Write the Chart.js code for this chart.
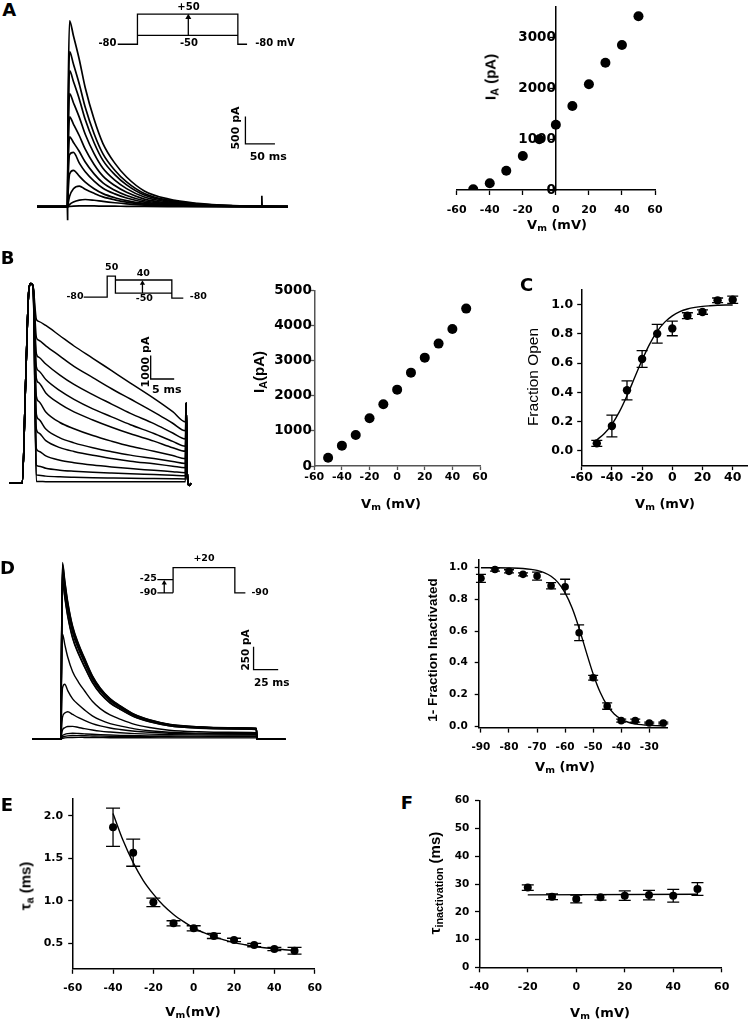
<!DOCTYPE html>
<html>
<head>
<meta charset="utf-8">
<script src="https://cdn.jsdelivr.net/npm/chart.js@4.4.1/dist/chart.umd.min.js"></script>
<style>
  html, body { margin: 0; padding: 0; background: #fff; }
  #fig { position: relative; width: 750px; height: 1022px; overflow: hidden; background: #fff; }
  #fig canvas { position: absolute; }
  .t { position: absolute; transform: translate(-50%, -50%); white-space: nowrap; line-height: 1;
       color: #000; font-family: 'DejaVu Sans'; font-weight: bold; }
  .t.r { transform: translate(-50%, -50%) rotate(-90deg); }
  sub { font-size: 72%; vertical-align: -0.3em; line-height: 0; }
</style>
</head>
<body>
<div id="fig"></div>
<script>
// ---------- A: raw currents, steps -50..+50 mV (time in ms, current in pA) ----------
const TA = [-52, -0.5, 0, 1, 3.5, 10, 20, 30, 45, 60, 80, 100, 130, 170, 220, 280, 373];
const A_TRACES = [
  [0, 0, 0, 1880, 3415, 3140, 2700, 2185, 1605, 1160, 800, 545, 290, 143, 61, 20, 0],
  [0, 0, 0, 1570, 2849, 2620, 2250, 1825, 1340, 970, 670, 455, 242, 120, 51, 17, 0],
  [0, 0, 0, 1375, 2501, 2300, 1975, 1600, 1175, 850, 588, 400, 213, 105, 45, 15, 0],
  [0, 0, 0, 1140, 2077, 1910, 1640, 1330, 975, 706, 488, 332, 177, 87, 37, 12, 0],
  [0, 0, 0, 900, 1650, 1518, 1303, 1056, 775, 561, 388, 264, 140, 69, 30, 10, 0],
  [0, 0, 0, 700, 1283, 1180, 1013, 821, 603, 436, 302, 205, 109, 54, 23, 8, 0],
  [0, 0, 0, 480, 960, 996, 800, 640, 470, 340, 235, 160, 85, 42, 18, 6, 0],
  [0, 0, 0, 260, 600, 668, 560, 450, 330, 240, 165, 112, 60, 30, 13, 4, 0],
  [0, 0, 0, 60, 190, 330, 379, 320, 245, 180, 125, 85, 46, 23, 10, 3, 0],
  [0, 0, 0, 10, 40, 85, 120, 132, 118, 96, 72, 52, 30, 16, 7, 2, 0],
  [0, 0, 0, 1, 4, 9, 13, 14, 13, 11, 9, 7, 4, 2, 1, 0, 0]
];
const A_ARTIFACT = [[-0.3, 0], [0, -250], [0.4, 0], null, [328.5, 0], [329, 200], [329.6, 0]];
const A_PROTOCOL = [[85, 2984], [118.4, 2984], [118.4, 3538], [288.4, 3538], [288.4, 2984], [304, 2984], null,
                    [118.4, 3146], [288.4, 3146], null, [204.5, 3146], [204.5, 3500]];
const A_ARROW = [[204.5, 3480]];
const A_SCALEBAR = [[301.2, 1655], [301.2, 1155], [351.2, 1155]];   // 500 pA, 50 ms

// A: peak I-V
const VA = [-50, -40, -30, -20, -10, 0, 10, 20, 30, 40, 50];
const IA = [14, 132, 379, 668, 996, 1283, 1650, 2077, 2501, 2849, 3413];
const A_XTICKS = [-60, -40, -20, 0, 20, 40, 60];
const A_YTICKS = [0, 1000, 2000, 3000];

// ---------- B: prepulse to +50 then steps (ms, pA) ----------
const TB = [-5.8, -3.0, -2.3, -1.6, -1.2, -0.7, 0, 0.5, 2, 5, 8, 12, 16, 20, 25, 29, 31.7, 31.85, 32.1, 32.5, 32.9];
const B_PRE = [0, 0, 4200, 8200, 8470, 8350];
const B_TAIL = [3400, 400, -100, 0];
const B_STEPS = [
  [6950, 6865, 6690, 6255, 5820, 5300, 4775, 4250, 3600, 3035, 2600],
  [6185, 6066, 5829, 5393, 4957, 4482, 4007, 3571, 3017, 2542, 2225],
  [5490, 5345, 5056, 4586, 4189, 3755, 3357, 2960, 2526, 2128, 1875],
  [4935, 4767, 4397, 3926, 3555, 3152, 2815, 2479, 2108, 1772, 1570],
  [4450, 4264, 3830, 3365, 3024, 2683, 2373, 2094, 1784, 1505, 1350],
  [3685, 3473, 3024, 2574, 2310, 2019, 1781, 1569, 1357, 1172, 1040],
  [2920, 2712, 2295, 1920, 1711, 1502, 1336, 1190, 1044, 918, 835],
  [2295, 2131, 1803, 1508, 1344, 1180, 1049, 934, 819, 721, 655],
  [1460, 1358, 1155, 973, 871, 770, 689, 618, 546, 485, 445],
  [765, 720, 632, 551, 507, 462, 427, 396, 365, 338, 320],
  [350, 333, 299, 268, 251, 234, 221, 209, 197, 187, 180],
  [70, 68, 65, 63, 62, 61, 60, 60, 60, 60, 60]
];
const B_PROTOCOL = [[10.06, 7894], [15.06, 7894], [15.06, 8786], [16.81, 8786], [16.81, 8061], [28.81, 8061],
                    [28.81, 7852], [31.25, 7852], null, [16.81, 8620], [28.81, 8620], [28.81, 8061], null,
                    [22.56, 8061], [22.56, 8500]];
const B_ARROW = [[22.56, 8480]];
const B_SCALEBAR = [[24.31, 5420], [24.31, 4420], [29.31, 4420]];   // 1000 pA, 5 ms

// B: I-V
const VB = [-50, -40, -30, -20, -10, 0, 10, 20, 30, 40, 50];
const IB = [237, 579, 882, 1357, 1755, 2173, 2657, 3084, 3483, 3900, 4479];
const B_XTICKS = [-60, -40, -20, 0, 20, 40, 60];
const B_YTICKS = [0, 1000, 2000, 3000, 4000, 5000];

// ---------- C: activation ----------
const VC = [-50, -40, -30, -20, -10, 0, 10, 20, 30, 40];
const FC = [0.052, 0.171, 0.415, 0.629, 0.802, 0.838, 0.925, 0.95, 1.03, 1.034];
const EC = [0.02, 0.074, 0.065, 0.057, 0.064, 0.05, 0.02, 0.015, 0.016, 0.025];
const C_FIT_V = [-50, -45, -40, -35, -30, -25, -20, -15, -10, -5, 0, 5, 10, 15, 20, 25, 30, 35, 40];
const C_FIT = [0.076, 0.119, 0.182, 0.269, 0.378, 0.5, 0.622, 0.731, 0.818, 0.881, 0.924, 0.953, 0.971,
               0.982, 0.989, 0.993, 0.996, 0.998, 0.998];
const C_XTICKS = [-60, -40, -20, 0, 20, 40];
const C_YTICKS = [0, 0.2, 0.4, 0.6, 0.8, 1.0];

// ---------- D: raw currents after prepulses -90..-25 (ms, pA) ----------
const TD = [-29, -0.6, 0, 0.8, 1.7, 4, 7, 12, 18, 24, 32, 40, 50, 60, 75, 90, 110, 140, 170, 198.5, 199.3, 228];
const D_TRACES = [
  [0, 0, 0, 1158, 1930, 1737, 1505, 1235, 1042, 888, 695, 560, 444, 367, 270, 212, 164, 135, 125, 120, 0, 0],
  [0, 0, 0, 1146, 1910, 1719, 1490, 1222, 1031, 879, 688, 554, 439, 363, 267, 210, 162, 134, 124, 118, 0, 0],
  [0, 0, 0, 1122, 1870, 1683, 1459, 1197, 1010, 860, 673, 542, 430, 355, 262, 206, 159, 131, 122, 116, 0, 0],
  [0, 0, 0, 1110, 1850, 1665, 1443, 1184, 999, 851, 666, 537, 426, 352, 259, 204, 157, 130, 120, 115, 0, 0],
  [0, 0, 0, 1089, 1815, 1634, 1416, 1162, 980, 835, 653, 526, 417, 345, 254, 200, 154, 127, 118, 113, 0, 0],
  [0, 0, 0, 1041, 1735, 1562, 1353, 1110, 937, 798, 625, 503, 399, 330, 243, 191, 147, 121, 113, 108, 0, 0],
  [0, 0, 0, 1029, 1715, 1544, 1338, 1098, 926, 789, 617, 497, 394, 326, 240, 189, 146, 120, 111, 106, 0, 0],
  [0, 0, 0, 690, 1150, 1035, 897, 736, 621, 529, 414, 334, 265, 219, 161, 127, 98, 81, 75, 71, 0, 0],
  [0, 0, 0, 300, 560, 600, 530, 440, 375, 320, 255, 210, 170, 145, 112, 92, 76, 66, 62, 60, 0, 0],
  [0, 0, 0, 120, 240, 285, 300, 270, 235, 205, 170, 145, 122, 106, 87, 75, 65, 58, 55, 54, 0, 0],
  [0, 0, 0, 50, 100, 125, 138, 140, 128, 115, 100, 88, 78, 70, 61, 55, 50, 47, 46, 45, 0, 0],
  [0, 0, 0, 20, 40, 52, 60, 65, 62, 58, 53, 49, 45, 42, 39, 36, 34, 33, 32, 32, 0, 0],
  [0, 0, 0, 10, 22, 30, 36, 40, 39, 37, 35, 33, 31, 30, 28, 27, 26, 25, 25, 25, 0, 0],
  [0, 0, 0, 5, 10, 14, 17, 19, 20, 19, 18, 17, 16, 16, 15, 15, 14, 14, 14, 14, 0, 0]
];
const D_PROTOCOL = [[114, 1597.5], [114, 1872.5], [176.7, 1872.5], [176.7, 1597.5], [187.4, 1597.5], null,
                    [98, 1741], [114, 1741], null, [98, 1597.5], [114, 1597.5], null, [105, 1597.5], [105, 1700]];
const D_ARROW = [[105, 1705]];
const D_SCALEBAR = [[195.7, 1010], [195.7, 760], [220.7, 760]];   // 250 pA, 25 ms

// D: steady-state inactivation
const VD = [-90, -85, -80, -75, -70, -65, -60, -55, -50, -45, -40, -35, -30, -25];
const FD = [0.933, 0.989, 0.977, 0.958, 0.947, 0.886, 0.88, 0.589, 0.305, 0.126, 0.034, 0.034, 0.019, 0.019];
const ED = [0.025, 0.01, 0.01, 0.01, 0.025, 0.02, 0.047, 0.05, 0.015, 0.02, 0.01, 0.01, 0.005, 0.005];
const D_FIT_V = [-90, -85, -80, -75, -70, -67.5, -65, -62.5, -60, -57.5, -55, -52.5, -50, -47.5, -45, -42.5,
                 -40, -37.5, -35, -30, -24];
const D_FIT = [0.9999, 0.9995, 0.9984, 0.995, 0.983, 0.969, 0.946, 0.906, 0.841, 0.745, 0.617, 0.47, 0.329,
               0.213, 0.13, 0.076, 0.043, 0.024, 0.0136, 0.0042, 0.001];
const D_XTICKS = [-90, -80, -70, -60, -50, -40, -30];
const D_YTICKS = [0, 0.2, 0.4, 0.6, 0.8, 1.0];

// ---------- E: activation time constant ----------
const VE = [-40, -30, -20, -10, 0, 10, 20, 30, 40, 50];
const TAU_A = [1.867, 1.568, 0.983, 0.736, 0.677, 0.587, 0.54, 0.48, 0.433, 0.413];
const EE = [0.225, 0.16, 0.05, 0.03, 0.03, 0.03, 0.02, 0.02, 0.02, 0.04];
const E_FIT_V = [-40, -35, -30, -25, -20, -15, -10, -5, 0, 5, 10, 15, 20, 25, 30, 35, 40, 45, 50];
const E_FIT = [2.03, 1.71, 1.45, 1.24, 1.08, 0.945, 0.84, 0.755, 0.68, 0.625, 0.578, 0.54, 0.508, 0.485,
               0.464, 0.448, 0.435, 0.425, 0.416];
const E_XTICKS = [-60, -40, -20, 0, 20, 40, 60];
const E_YTICKS = [0.5, 1.0, 1.5, 2.0];

// ---------- F: inactivation time constant ----------
const VF = [-20, -10, 0, 10, 20, 30, 40, 50];
const TAU_I = [28.7, 25.4, 24.6, 25.2, 25.8, 26.0, 25.8, 28.2];
const EF = [1, 1, 1.4, 1, 1.7, 1.7, 2.3, 2.3];
const F_FIT_V = [-20, 50];
const F_FIT = [26.1, 26.3];
const F_XTICKS = [-40, -20, 0, 20, 40, 60];
const F_YTICKS = [0, 10, 20, 30, 40, 50, 60];

// ---------------------------------------------------------------------------
const fig = document.getElementById('fig');
Chart.defaults.font.family = 'DejaVu Sans';
Chart.defaults.font.weight = 'bold';
Chart.defaults.color = '#000';

const base = {
  responsive: false, animation: false, events: [], devicePixelRatio: 1,
  plugins: { legend: { display: false }, tooltip: { enabled: false } }
};

const pts = (xs, ys) => xs.map((x, i) => ({ x, y: ys[i] }));
function path(list) {
  const out = [];
  let last = 0;
  list.forEach(p => {
    if (p) { out.push({ x: p[0], y: p[1] }); last = p[0]; }
    else out.push({ x: last, y: null });
  });
  return out;
}

function mkCanvas(id, left, top, w, h) {
  const c = document.createElement('canvas');
  c.id = id; c.width = w; c.height = h;
  c.style.left = left + 'px'; c.style.top = top + 'px';
  c.style.width = w + 'px'; c.style.height = h + 'px';
  fig.appendChild(c);
  return c.getContext('2d');
}

function txt(html, x, y, css, rot) {
  const d = document.createElement('div');
  d.className = 't' + (rot ? ' r' : '');
  d.innerHTML = html;
  d.style.left = x + 'px'; d.style.top = y + 'px';
  d.style.cssText += ';' + css;
  fig.appendChild(d);
}

const traceSet = (xs, ys, w) => ({ data: pts(xs, ys), borderColor: '#000', borderWidth: w, pointRadius: 0,
  cubicInterpolationMode: 'monotone', fill: false });
const pathSet = (list, w) => ({ data: path(list), borderColor: '#000', borderWidth: w, pointRadius: 0,
  tension: 0, spanGaps: false, fill: false });
const arrowSet = (list, r) => ({ data: path(list), showLine: false, pointStyle: 'triangle', pointRadius: r,
  pointBackgroundColor: '#000', pointBorderWidth: 0 });

// recordings: no axes, the chart area is pinned to a page rectangle
function traceChart(id, area, xr, yr, datasets) {
  const bx = Math.floor(area[0]) - 2, by = Math.floor(area[1]) - 2;
  const bw = Math.ceil(area[2]) + 2 - bx, bh = Math.ceil(area[3]) + 2 - by;
  const ctx = mkCanvas(id, bx, by, bw, bh);
  return new Chart(ctx, {
    type: 'line',
    data: { datasets },
    options: {
      ...base,
      layout: { padding: { left: area[0] - bx, top: area[1] - by, right: bx + bw - area[2], bottom: by + bh - area[3] } },
      scales: {
        x: { type: 'linear', display: false, min: xr[0], max: xr[1] },
        y: { type: 'linear', display: false, min: yr[0], max: yr[1] }
      }
    }
  });
}

function errorBars(xs, ys, err, cap) {
  return {
    id: 'errorBars',
    beforeDatasetsDraw(chart) {
      const { ctx, scales: { x, y } } = chart;
      ctx.save();
      ctx.strokeStyle = '#000';
      ctx.lineWidth = 1.3;
      xs.forEach((v, i) => {
        const px = x.getPixelForValue(v);
        const lo = y.getPixelForValue(ys[i] - err[i]);
        const hi = y.getPixelForValue(ys[i] + err[i]);
        ctx.beginPath();
        ctx.moveTo(px, lo); ctx.lineTo(px, hi);
        ctx.moveTo(px - cap, lo); ctx.lineTo(px + cap, lo);
        ctx.moveTo(px - cap, hi); ctx.lineTo(px + cap, hi);
        ctx.stroke();
      });
      ctx.restore();
    }
  };
}

const YW = 45, XH = 30;
function plotChart(id, area, o) {
  const bx = Math.floor(area[0]) - YW - 15, by = Math.floor(area[1]) - 15;
  const bw = Math.ceil(area[2]) + 25 - bx, bh = Math.ceil(area[3]) + XH + 15 - by;
  const ctx = mkCanvas(id, bx, by, bw, bh);
  const yLeft = !o.yAtZero;
  const col = o.axisColor || '#000';
  const axis = (a) => ({
    type: 'linear',
    min: a.min, max: a.max,
    afterBuildTicks: s => { s.ticks = a.ticks.map(v => ({ value: v })); },
    grid: { drawOnChartArea: false, drawTicks: true, tickLength: a.tl, tickColor: col, tickWidth: 1.3 },
    border: { color: col, width: 1.5 },
    ticks: {
      autoSkip: false, maxRotation: 0, padding: a.pad, color: '#000',
      font: { family: 'DejaVu Sans', size: a.size, weight: 'bold' },
      callback: v => a.dec ? Number(v).toFixed(a.dec) : String(v)
    }
  });
  const x = axis(o.x);
  x.position = 'bottom';
  x.afterFit = s => { s.height = XH; };
  const y = axis(o.y);
  y.position = yLeft ? 'left' : { x: 0 };
  y.afterFit = s => { s.width = YW; };
  return new Chart(ctx, {
    type: 'scatter',
    data: { datasets: o.datasets },
    options: {
      ...base,
      layout: { padding: {
        left: area[0] - bx - (yLeft ? YW : 0), top: area[1] - by,
        right: bx + bw - area[2], bottom: by + bh - area[3] - XH } },
      scales: { x, y }
    },
    plugins: o.err ? [o.err] : []
  });
}

const dots = (xs, ys, r) => ({ data: pts(xs, ys), showLine: false, pointRadius: r,
  pointBackgroundColor: '#000', pointBorderWidth: 0 });
const fit = (xs, ys) => ({ data: pts(xs, ys), showLine: true, pointRadius: 0, borderColor: '#000',
  borderWidth: 1.4, cubicInterpolationMode: 'monotone' });

// ---------------- panel A ----------------
traceChart('aTraces', [35, 0, 290, 230], [-51.67, 373.3], [-391.7, 3760], [
  ...A_TRACES.map(tr => traceSet(TA, tr, 1.7)),
  pathSet(A_ARTIFACT, 1.7),
  pathSet(A_PROTOCOL, 1.3),
  arrowSet(A_ARROW, 3.5),
  pathSet(A_SCALEBAR, 1.3)
]);

plotChart('aIV', [456.7, 6.8, 655, 190], {
  yAtZero: true,
  x: { min: -60, max: 60, ticks: A_XTICKS, size: 11, tl: 5, pad: 8.4 },
  y: { min: 0, max: 3600, ticks: A_YTICKS, size: 13.5, tl: 5, pad: 0 },
  datasets: [dots(VA, IA, 5)]
});

// ---------------- panel B ----------------
traceChart('bTraces', [5, 262, 200, 495], [-6.25, 34.375], [-417, 9299], [
  ...B_STEPS.map(st => traceSet(TB, B_PRE.concat(st, B_TAIL), 1.5)),
  pathSet(B_PROTOCOL, 1.3),
  arrowSet(B_ARROW, 3),
  pathSet(B_SCALEBAR, 1.3)
]);

plotChart('bIV', [314.3, 290.3, 480, 466], {
  axisColor: '#555',
  x: { min: -60, max: 60, ticks: B_XTICKS, size: 11, tl: 4, pad: 0.7 },
  y: { min: 0, max: 5000, ticks: B_YTICKS, size: 13.5, tl: 4, pad: -1.5 },
  datasets: [dots(VB, IB, 5)]
});

// ---------------- panel C ----------------
plotChart('cAct', [581.7, 290.1, 747.8, 465.6], {
  x: { min: -60, max: 50, ticks: C_XTICKS, size: 12.5, tl: 4.5, pad: 0 },
  y: { min: -0.1, max: 1.1, ticks: C_YTICKS, size: 12.5, tl: 4.5, pad: 3.9, dec: 1 },
  datasets: [dots(VC, FC, 4.2), fit(C_FIT_V, C_FIT)],
  err: errorBars(VC, FC, EC, 5.5)
});

// ---------------- panel D ----------------
traceChart('dTraces', [28, 548, 292, 750], [-31.3, 232.7], [-96.3, 2065.1], [
  ...D_TRACES.map(tr => traceSet(TD, tr, 1.4)),
  pathSet(D_PROTOCOL, 1.3),
  arrowSet(D_ARROW, 3),
  pathSet(D_SCALEBAR, 1.3)
]);

plotChart('dInact', [478.7, 559.8, 667.5, 727.6], {
  x: { min: -90.8, max: -23.5, ticks: D_XTICKS, size: 10.5, tl: 5, pad: 8.4 },
  y: { min: -0.01, max: 1.05, ticks: D_YTICKS, size: 10.5, tl: 4, pad: 7, dec: 1 },
  datasets: [dots(VD, FD, 3.8), fit(D_FIT_V, D_FIT)],
  err: errorBars(VD, FD, ED, 5)
});

// ---------------- panel E ----------------
plotChart('eTau', [72.7, 799, 314.7, 968.8], {
  x: { min: -60, max: 60, ticks: E_XTICKS, size: 10.5, tl: 5, pad: 8.2 },
  y: { min: 0.2, max: 2.2, ticks: E_YTICKS, size: 11, tl: 4.5, pad: 5, dec: 1 },
  datasets: [dots(VE, TAU_A, 4), fit(E_FIT_V, E_FIT)],
  err: errorBars(VE, TAU_A, EE, 7)
});

// ---------------- panel F ----------------
plotChart('fTau', [479.3, 800.7, 721.7, 967.3], {
  x: { min: -40, max: 60, ticks: F_XTICKS, size: 11, tl: 5, pad: 8.1 },
  y: { min: 0, max: 60, ticks: F_YTICKS, size: 10.5, tl: 4.3, pad: 5.7 },
  datasets: [dots(VF, TAU_I, 4), fit(F_FIT_V, F_FIT)],
  err: errorBars(VF, TAU_I, EF, 6)
});

// ---------------- text ----------------
const L = 'font-size:18px';
txt('A', 9.2, 9.7, L); txt('B', 7.5, 258, L); txt('C', 526.7, 285, L);
txt('D', 7.5, 568.3, L); txt('E', 7, 805, L); txt('F', 407, 802.5, L);

// protocol and scale labels
const P10 = 'font-size:10px', P9 = 'font-size:9.5px', S11 = 'font-size:11px';
txt('+50', 188.5, 6.7, P10); txt('-80', 107.5, 43, P10); txt('-50', 189, 42.7, P10); txt('-80 mV', 275, 43, P10);
txt('500 pA', 235, 128, S11, true); txt('50 ms', 268.3, 156, S11);
txt('50', 111.7, 266.7, P9); txt('40', 143.3, 272.7, P9); txt('-80', 75, 295.7, P9);
txt('-50', 144.3, 298.3, P9); txt('-80', 198.3, 295.7, P9);
txt('1000 pA', 145, 361.7, S11, true); txt('5 ms', 166.7, 389.3, S11);
txt('+20', 204, 558.3, P9); txt('-25', 148.3, 578.3, P9); txt('-90', 148.3, 591.7, P9); txt('-90', 260, 591.7, P9);
txt('250 pA', 245, 650, 'font-size:10.5px', true); txt('25 ms', 271.7, 681.7, 'font-size:10.5px');

// axis titles
const XT = 'font-size:13px', YT = 'font-family:Liberation Sans;font-size:15px';
txt('I<sub>A</sub> (pA)', 490, 77, YT, true);
txt('V<sub>m</sub> (mV)', 557, 224, XT);
txt('I<sub>A</sub>(pA)', 258, 372, YT, true);
txt('V<sub>m</sub> (mV)', 391, 503, XT);
txt('Fraction Open', 533, 377, 'font-family:Liberation Sans;font-weight:normal;font-size:15.5px', true);
txt('V<sub>m</sub> (mV)', 665, 503, XT);
txt('1- Fraction Inactivated', 433, 650, 'font-family:Liberation Sans;font-size:13.5px', true);
txt('V<sub>m</sub> (mV)', 565, 766, XT);
txt('τ<sub>a</sub> (ms)', 25, 886, YT, true);
txt('V<sub>m</sub>(mV)', 193, 1011, XT);
txt('τ<sub>inactivation</sub> (ms)', 433.5, 883, YT, true);
txt('V<sub>m</sub> (mV)', 600, 1012, XT);
</script>
</body>
</html>
